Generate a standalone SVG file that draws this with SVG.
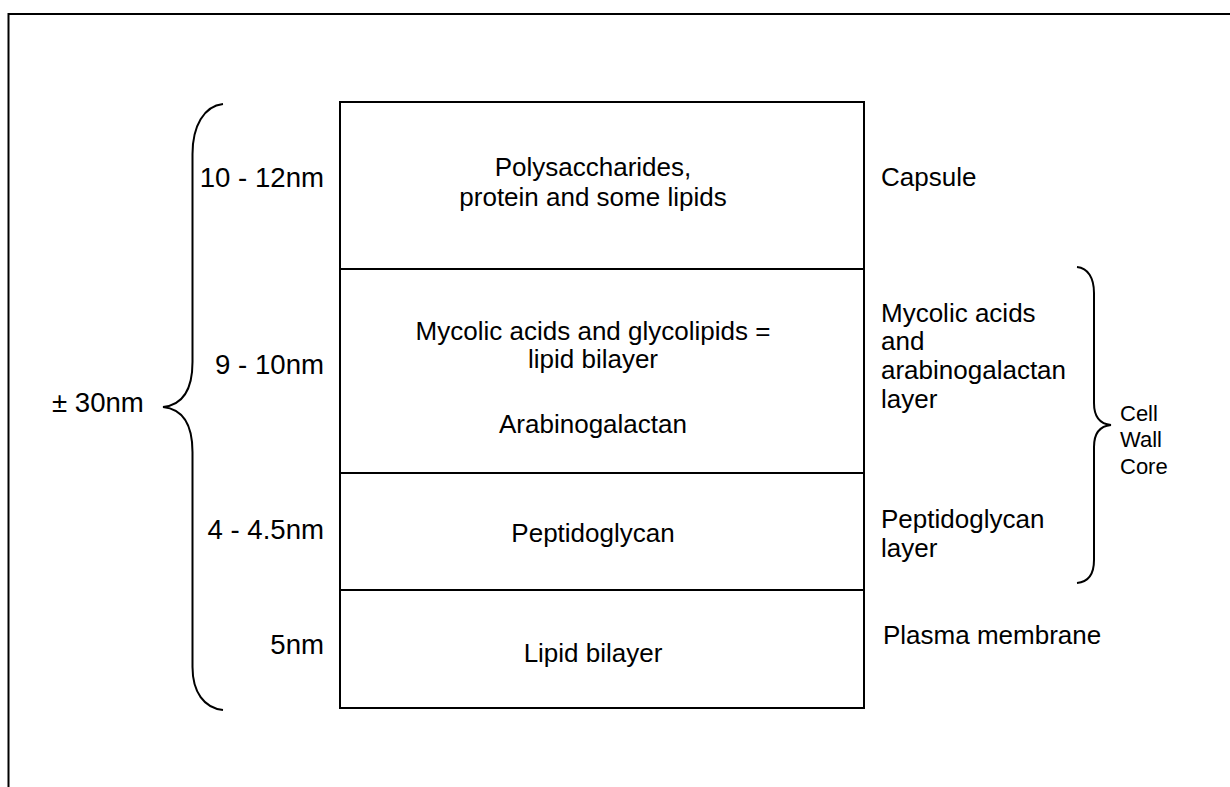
<svg xmlns="http://www.w3.org/2000/svg" width="1230" height="787" viewBox="0 0 1230 787">
<style>
.ln{fill:none;stroke:#000;stroke-width:2}
.t{font-family:"Liberation Sans",Arial,sans-serif;font-size:26px;fill:#000}
.b{font-family:"Liberation Sans",Arial,sans-serif;font-size:27.6px;fill:#000}
.s{font-family:"Liberation Sans",Arial,sans-serif;font-size:22px;fill:#000}
.c{text-anchor:middle}
.r{text-anchor:end}
</style>
<rect width="1230" height="787" fill="#fff"/>
<g id="frame">
<path class="ln" d="M8.5,787 L8.5,14 L1230,14"/>
</g>
<g id="layers">
<g id="capsule-layer">
<rect class="ln" x="340" y="102" width="524" height="167"/>
<text class="t c" x="593" y="176">Polysaccharides,</text>
<text class="t c" x="593" y="206">protein and some lipids</text>
</g>
<g id="mycolic-layer">
<rect class="ln" x="340" y="269" width="524" height="204"/>
<text class="t c" x="593" y="340">Mycolic acids and glycolipids =</text>
<text class="t c" x="593" y="368">lipid bilayer</text>
<text class="t c" x="593" y="433">Arabinogalactan</text>
</g>
<g id="peptidoglycan-layer">
<rect class="ln" x="340" y="473" width="524" height="117"/>
<text class="t c" x="593" y="542">Peptidoglycan</text>
</g>
<g id="membrane-layer">
<rect class="ln" x="340" y="590" width="524" height="118"/>
<text class="t c" x="593" y="662">Lipid bilayer</text>
</g>
</g>
<g id="thickness-labels">
<text class="b r" x="324" y="187">10 - 12nm</text>
<text class="b r" x="324" y="374">9 - 10nm</text>
<text class="b r" x="324" y="539">4 - 4.5nm</text>
<text class="b r" x="324" y="654">5nm</text>
</g>
<g id="total-brace">
<path class="ln" d="M223,104 C204,106 192.5,126 192.5,154 L192.5,362 C192.5,390 182,405 163,407 C182,409 192.5,424 192.5,452 L192.5,667 C192.5,692 204,708 223,710"/>
<text class="b" x="52" y="412">± 30nm</text>
</g>
<g id="layer-names">
<text class="t" x="881" y="186">Capsule</text>
<text class="t" x="881" y="322">Mycolic acids</text>
<text class="t" x="881" y="350">and</text>
<text class="t" x="881" y="379">arabinogalactan</text>
<text class="t" x="881" y="408">layer</text>
<text class="t" x="881" y="528">Peptidoglycan</text>
<text class="t" x="881" y="557">layer</text>
<text class="t" x="883" y="644">Plasma membrane</text>
</g>
<g id="core-brace">
<path class="ln" d="M1077,267 C1088,268 1094,278 1094,293 L1094,403 C1094,417 1100,424 1111,425 C1100,426 1094,433 1094,447 L1094,560 C1094,574 1088,582 1077,583"/>
<text class="s" x="1120" y="421">Cell</text>
<text class="s" x="1120" y="447">Wall</text>
<text class="s" x="1120" y="474">Core</text>
</g>
</svg>
